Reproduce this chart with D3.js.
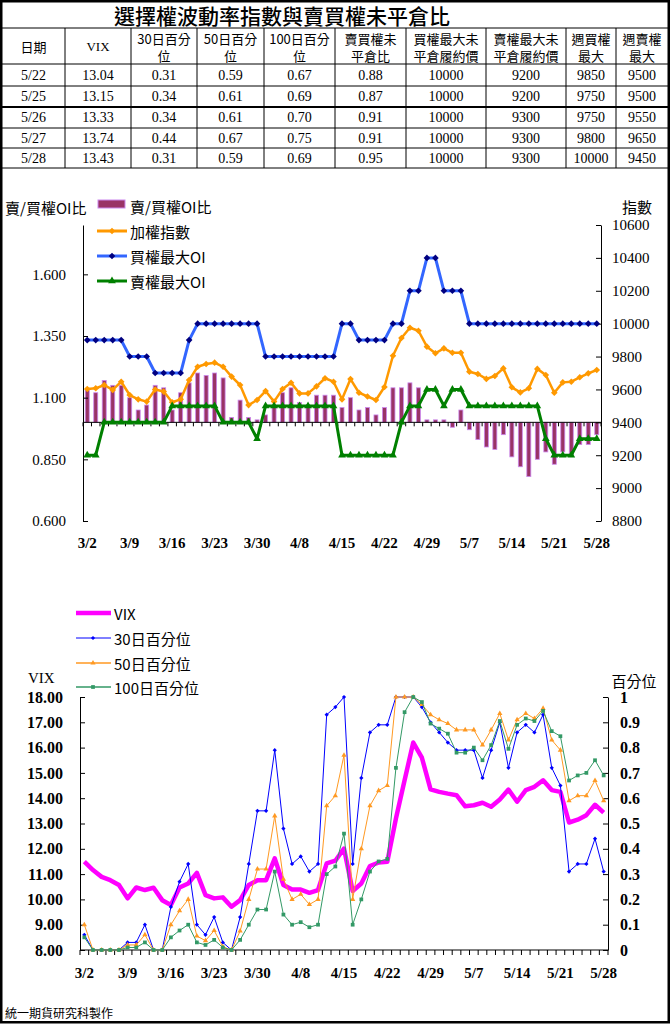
<!DOCTYPE html>
<html><head><meta charset="utf-8">
<script src="https://cdn.jsdelivr.net/npm/d3@7/dist/d3.min.js"></script>
<style>body{margin:0;background:#fff}svg{display:block}</style>
</head><body>
<svg id="c" width="670" height="1024"></svg>
<script>
// ---------- DATA ----------
const dates = ["3/2","3/3","3/4","3/5","3/6","3/9","3/10","3/11","3/12","3/13","3/16","3/17","3/18","3/19","3/20",
"3/23","3/24","3/25","3/26","3/27","3/30","3/31","4/1","4/2","4/7","4/8","4/9","4/10","4/13","4/14","4/15","4/16","4/17",
"4/20","4/21","4/22","4/23","4/24","4/27","4/28","4/29","4/30","5/4","5/5","5/6","5/7","5/8","5/11","5/12","5/13","5/14",
"5/15","5/18","5/19","5/20","5/21","5/22","5/25","5/26","5/27","5/28"];
const xTickLabels = ["3/2","3/9","3/16","3/23","3/30","4/8","4/15","4/22","4/29","5/7","5/14","5/21","5/28"];

// top chart
const putCallOIRatio = [1.13,1.12,1.17,1.15,1.15,1.10,1.05,1.07,1.15,1.14,1.05,1.12,1.16,1.20,1.19,1.20,1.18,1.02,1.09,1.02,
1.01,1.03,1.06,1.12,1.14,1.08,1.07,1.11,1.11,1.11,1.06,1.10,1.05,1.06,1.03,1.06,1.14,1.14,1.16,1.14,1.01,1.01,1.01,0.98,1.05,
0.97,0.93,0.90,0.89,0.95,0.86,0.82,0.78,0.85,0.88,0.83,0.88,0.87,0.91,0.91,0.95];
const taiex = [9603,9607,9627,9597,9647,9566,9540,9526,9600,9587,9522,9540,9657,9738,9755,9763,9738,9678,9627,9505,
9536,9590,9526,9603,9641,9576,9576,9619,9668,9647,9540,9663,9580,9557,9536,9615,9805,9913,9975,9957,9860,9820,9850,9823,9823,
9708,9694,9664,9682,9728,9613,9582,9607,9725,9688,9580,9643,9647,9674,9698,9718];
const callMaxOI = [9900,9900,9900,9900,9900,9800,9800,9800,9700,9700,9700,9700,9900,10000,10000,10000,10000,10000,10000,10000,
10000,9800,9800,9800,9800,9800,9800,9800,9800,9800,10000,10000,9900,9900,9900,9900,10000,10000,10200,10200,10400,10400,10200,10200,10200,
10000,10000,10000,10000,10000,10000,10000,10000,10000,10000,10000,10000,10000,10000,10000,10000];
const putMaxOI = [9200,9200,9400,9400,9400,9400,9400,9400,9400,9400,9500,9500,9500,9500,9500,9500,9400,9400,9400,9400,
9300,9500,9500,9500,9500,9500,9500,9500,9500,9500,9200,9200,9200,9200,9200,9200,9200,9400,9500,9500,9600,9600,9500,9600,9600,
9500,9500,9500,9500,9500,9500,9500,9500,9500,9300,9200,9200,9200,9300,9300,9300];
const topLeftTicks = [0.6,0.85,1.1,1.35,1.6];
const topRightTicks = [8800,9000,9200,9400,9600,9800,10000,10200,10400,10600];

// bottom chart
const vix = [11.49,11.16,10.89,10.76,10.57,10.04,10.47,10.37,10.46,9.97,9.78,10.47,10.63,11.05,10.17,10.04,10.08,9.71,9.97,10.57,
10.76,10.76,11.62,10.57,10.39,10.39,10.26,10.37,11.42,11.53,12.01,10.33,10.63,11.32,11.46,11.49,13.20,14.71,16.20,15.60,
14.35,14.25,14.18,14.12,13.68,13.72,13.82,13.66,13.95,14.34,13.86,14.32,14.45,14.71,14.32,14.25,13.04,13.15,13.33,13.74,13.43];
const pct30 = [0.06,0,0,0,0,0.03,0.03,0.10,0,0,0.17,0.27,0.34,0.10,0.06,0.13,0.03,0,0.13,0.34,
0.55,0.55,0.79,0.48,0.34,0.37,0.31,0.34,0.93,0.96,1.0,0.34,0.68,0.86,0.89,0.89,1.0,1.0,1.0,0.96,
0.90,0.86,0.82,0.79,0.79,0.79,0.68,0.79,0.90,0.72,0.86,0.89,0.86,0.93,0.72,0.65,0.31,0.34,0.34,0.44,0.31];
const pct50 = [0.10,0,0,0,0,0.02,0.02,0.06,0,0,0.10,0.155,0.20,0.055,0.037,0.077,0.013,0,0.075,0.20,
0.32,0.32,0.53,0.28,0.20,0.22,0.18,0.20,0.57,0.61,0.77,0.20,0.40,0.57,0.63,0.65,1.0,1.0,1.0,0.97,
0.93,0.91,0.895,0.87,0.87,0.87,0.81,0.87,0.935,0.83,0.91,0.935,0.915,0.955,0.83,0.79,0.59,0.61,0.61,0.67,0.59];
const pct100 = [0.05,0,0,0,0,0.01,0.01,0.03,0,0,0.05,0.077,0.10,0.03,0.02,0.04,0.01,0,0.04,0.10,
0.16,0.16,0.31,0.14,0.10,0.11,0.09,0.10,0.30,0.33,0.46,0.10,0.20,0.31,0.35,0.36,0.72,0.94,1.0,0.98,
0.895,0.875,0.855,0.78,0.78,0.80,0.75,0.81,0.905,0.795,0.89,0.915,0.905,0.945,0.865,0.845,0.67,0.69,0.70,0.75,0.69];
const botLeftTicks = [8,9,10,11,12,13,14,15,16,17,18];
const botRightTicks = [0,0.1,0.2,0.3,0.4,0.5,0.6,0.7,0.8,0.9,1];

// table
const tableHeader = [["日期"],["VIX"],["30日百分","位"],["50日百分","位"],["100日百分","位"],["賣買權未","平倉比"],
  ["買權最大未","平倉履約價"],["賣權最大未","平倉履約價"],["週買權","最大"],["週賣權","最大"]];
const tableRows = [
  ["5/22","13.04","0.31","0.59","0.67","0.88","10000","9200","9850","9500"],
  ["5/25","13.15","0.34","0.61","0.69","0.87","10000","9200","9750","9500"],
  ["5/26","13.33","0.34","0.61","0.70","0.91","10000","9300","9750","9550"],
  ["5/27","13.74","0.44","0.67","0.75","0.91","10000","9300","9800","9650"],
  ["5/28","13.43","0.31","0.59","0.69","0.95","10000","9300","10000","9450"]];

// ---------- DRAW ----------
(function(){
const SERIF = '"Liberation Serif","Noto Sans CJK TC",serif';
const CJK = '"Noto Sans CJK TC","Liberation Serif",sans-serif';
const svg = d3.select("#c");
svg.append("rect").attr("x",1.25).attr("y",1.25).attr("width",667.5).attr("height",1021)
  .attr("fill","#fff").attr("stroke","#000").attr("stroke-width",2.5);

// title
svg.append("text").attr("x",282).attr("y",15).attr("text-anchor","middle").attr("dominant-baseline","central")
  .style("font-family",CJK).style("font-size","21px").style("font-weight","500").text("選擇權波動率指數與賣買權未平倉比");

// table grid
const colX = [2,65,131,197,264,335,406,486,566,616,668];
const rowY = [28,64,86,107,128,148,168];
const tg = svg.append("g");
rowY.forEach((y,i)=>tg.append("line").attr("x1",2).attr("x2",668).attr("y1",y).attr("y2",y)
  .attr("stroke","#000").attr("stroke-width", i===3?2:1));
colX.slice(1,-1).forEach(x=>tg.append("line").attr("x1",x).attr("x2",x).attr("y1",28).attr("y2",168)
  .attr("stroke","#000").attr("stroke-width",1));
tableHeader.forEach((lines,c)=>{
  const cx=(colX[c]+colX[c+1])/2;
  lines.forEach((t,k)=>{
    const y = lines.length===1 ? 46 : (k===0?38:55);
    tg.append("text").attr("x",cx).attr("y",y).attr("text-anchor","middle").attr("dominant-baseline","central")
      .style("font-family", t==="VIX"?SERIF:CJK).style("font-size","13px").text(t);
  });
});
tableRows.forEach((row,r)=>{
  const cy=(rowY[r+1]+rowY[r+2])/2;
  row.forEach((t,c)=>{
    tg.append("text").attr("x",(colX[c]+colX[c+1])/2).attr("y",cy).attr("text-anchor","middle")
      .attr("dominant-baseline","central").style("font-family",SERIF).style("font-size","14px").text(t);
  });
});

function styleAxis(g, size, weight){
  g.selectAll("path,line").attr("stroke","#000").attr("stroke-width",1);
  g.selectAll("text").attr("fill","#000").style("font-family",SERIF).style("font-size",size).style("font-weight",weight);
}
function sq45(size){ return d3.symbol(d3.symbolSquare, size); }

// ---------- TOP CHART ----------
const x1 = d3.scaleBand().domain(dates).range([83,601]);
const bw1 = x1.bandwidth();
const cx1 = d => x1(d)+bw1/2;
const yL1 = d3.scaleLinear().domain([0.6,1.8]).range([521,225]);
const yR1 = d3.scaleLinear().domain([8800,10600]).range([521,225]);
const topG = svg.append("g");

const base1 = yL1(1);
topG.append("g").selectAll("rect").data(dates).join("rect")
  .attr("x",(d)=>cx1(d)-2).attr("width",4)
  .attr("y",(d,i)=>Math.min(yL1(putCallOIRatio[i]),base1))
  .attr("height",(d,i)=>Math.abs(yL1(putCallOIRatio[i])-base1))
  .attr("fill","#993366").attr("stroke","#cc88ee").attr("stroke-width",0.8);

topG.append("line").attr("x1",83).attr("x2",601).attr("y1",base1).attr("y2",base1).attr("stroke","#000");
topG.append("g").selectAll("line").data(dates.concat(["_end"])).join("line")
  .attr("x1",(d)=> d==="_end"?601:x1(d)).attr("x2",(d)=> d==="_end"?601:x1(d))
  .attr("y1",base1).attr("y2",base1+4).attr("stroke","#000");
topG.append("g").selectAll("text").data(xTickLabels).join("text")
  .attr("x",d=>cx1(d)).attr("y",543).attr("text-anchor","middle").attr("dominant-baseline","central")
  .style("font-family",SERIF).style("font-size","15px").style("font-weight","bold").text(d=>d);

const gl1 = topG.append("g").attr("transform","translate(83,0)")
  .call(d3.axisLeft(yL1).tickValues(topLeftTicks).tickFormat(d3.format(".3f")).tickSizeInner(-5).tickSizeOuter(0).tickPadding(17));
styleAxis(gl1,"15px","normal");
const gr1 = topG.append("g").attr("transform","translate(601,0)")
  .call(d3.axisRight(yR1).tickValues(topRightTicks).tickFormat(d3.format("d")).tickSizeInner(-5).tickSizeOuter(0).tickPadding(11));
styleAxis(gr1,"15px","normal");

function drawLine(g, xf, yf, vals, color, width){
  g.append("path").datum(vals).attr("fill","none").attr("stroke",color).attr("stroke-width",width)
    .attr("stroke-linejoin","round")
    .attr("d", d3.line().x((v,i)=>xf(dates[i])).y(v=>yf(v)));
}
function drawMarkers(g, xf, yf, vals, sym, color, rot){
  g.append("g").selectAll("path").data(vals).join("path")
    .attr("d", sym)
    .attr("transform",(v,i)=>`translate(${xf(dates[i])},${yf(v)}) rotate(${rot||0})`)
    .attr("fill",color).attr("stroke","none");
}
drawLine(topG,cx1,yR1,taiex,"#ff9900",2.5);
drawMarkers(topG,cx1,yR1,taiex,sq45(22),"#ff9900",45);
drawLine(topG,cx1,yR1,callMaxOI,"#3366ff",3);
drawMarkers(topG,cx1,yR1,callMaxOI,sq45(22),"#000080",45);
drawLine(topG,cx1,yR1,putMaxOI,"#008000",3);
drawMarkers(topG,cx1,yR1,putMaxOI,d3.symbol(d3.symbolTriangle,26),"#008000",0);

topG.append("text").attr("x",5).attr("y",207).attr("dominant-baseline","central")
  .style("font-family",CJK).style("font-size","15px").text("賣/買權OI比");
topG.append("text").attr("x",637).attr("y",206).attr("text-anchor","middle").attr("dominant-baseline","central")
  .style("font-family",CJK).style("font-size","15px").text("指數");

const lg1 = topG.append("g");
lg1.append("rect").attr("x",98).attr("y",200).attr("width",27).attr("height",8)
  .attr("fill","#993366").attr("stroke","#cc88ee").attr("stroke-width",1);
const legTop = [
  {t:"賣/買權OI比",y:206},
  {t:"加權指數",y:231,c:"#ff9900",m:"#ff9900",s:sq45(22),r:45},
  {t:"買權最大OI",y:256,c:"#3366ff",m:"#000080",s:sq45(22),r:45},
  {t:"賣權最大OI",y:281,c:"#008000",m:"#008000",s:d3.symbol(d3.symbolTriangle,26),r:0}];
legTop.forEach(o=>{
  if(o.c){
    lg1.append("line").attr("x1",97).attr("x2",127).attr("y1",o.y).attr("y2",o.y).attr("stroke",o.c).attr("stroke-width",3);
    lg1.append("path").attr("d",o.s).attr("transform",`translate(112,${o.y}) rotate(${o.r})`).attr("fill",o.m);
  }
  lg1.append("text").attr("x",130).attr("y",o.y).attr("dominant-baseline","central")
    .style("font-family",CJK).style("font-size","15px").text(o.t);
});

// ---------- BOTTOM CHART ----------
const x2 = d3.scaleBand().domain(dates).range([80,608]);
const bw2 = x2.bandwidth();
const cx2 = d => x2(d)+bw2/2;
const yL2 = d3.scaleLinear().domain([8,18]).range([950,697]);
const yR2 = d3.scaleLinear().domain([0,1]).range([950,697]);
const botG = svg.append("g");

botG.append("line").attr("x1",80).attr("x2",608).attr("y1",950).attr("y2",950).attr("stroke","#000");
botG.append("g").selectAll("line").data(dates.concat(["_end"])).join("line")
  .attr("x1",(d)=> d==="_end"?608:x2(d)).attr("x2",(d)=> d==="_end"?608:x2(d))
  .attr("y1",950).attr("y2",955).attr("stroke","#000");
botG.append("g").selectAll("text").data(xTickLabels).join("text")
  .attr("x",d=>cx2(d)).attr("y",973).attr("text-anchor","middle").attr("dominant-baseline","central")
  .style("font-family",SERIF).style("font-size","15px").style("font-weight","bold").text(d=>d);

const gl2 = botG.append("g").attr("transform","translate(80,0)")
  .call(d3.axisLeft(yL2).tickValues(botLeftTicks).tickFormat(d3.format(".2f")).tickSizeInner(-5).tickSizeOuter(0).tickPadding(17));
styleAxis(gl2,"16px","bold");
const gr2 = botG.append("g").attr("transform","translate(608,0)")
  .call(d3.axisRight(yR2).tickValues(botRightTicks).tickFormat(d=> d===0?"0":d===1?"1":d3.format(".1f")(d)).tickSizeInner(-5).tickSizeOuter(0).tickPadding(12));
styleAxis(gr2,"16px","bold");

drawLine(botG,cx2,yL2,vix,"#ff00ff",4.5);
drawLine(botG,cx2,yR2,pct30,"#0000ff",1);
drawMarkers(botG,cx2,yR2,pct30,sq45(9),"#0000ff",45);
drawLine(botG,cx2,yR2,pct50,"#ff9922",1);
drawMarkers(botG,cx2,yR2,pct50,d3.symbol(d3.symbolTriangle,12),"#ff9922",0);
drawLine(botG,cx2,yR2,pct100,"#339966",1);
drawMarkers(botG,cx2,yR2,pct100,d3.symbol(d3.symbolSquare,14),"#339966",0);

botG.append("text").attr("x",28).attr("y",678).attr("dominant-baseline","central")
  .style("font-family",SERIF).style("font-size","15px").text("VIX");
botG.append("text").attr("x",634).attr("y",680).attr("text-anchor","middle").attr("dominant-baseline","central")
  .style("font-family",CJK).style("font-size","15px").text("百分位");

const legBot = [
  {t:"VIX",y:613,c:"#ff00ff",w:4.5},
  {t:"30日百分位",y:638,c:"#0000ff",w:1,s:sq45(9),r:45},
  {t:"50日百分位",y:663,c:"#ff9922",w:1.5,s:d3.symbol(d3.symbolTriangle,12),r:0},
  {t:"100日百分位",y:687,c:"#339966",w:1.5,s:d3.symbol(d3.symbolSquare,14),r:0}];
legBot.forEach(o=>{
  botG.append("line").attr("x1",76).attr("x2",111).attr("y1",o.y).attr("y2",o.y).attr("stroke",o.c).attr("stroke-width",o.w);
  if(o.s) botG.append("path").attr("d",o.s).attr("transform",`translate(93,${o.y}) rotate(${o.r})`).attr("fill",o.c);
  botG.append("text").attr("x",114).attr("y",o.y).attr("dominant-baseline","central")
    .style("font-family",CJK).style("font-size","15px").text(o.t);
});

svg.append("text").attr("x",5).attr("y",1012).attr("dominant-baseline","central")
  .style("font-family",CJK).style("font-size","12px").text("統一期貨研究科製作");
})();
</script>
</body></html>
